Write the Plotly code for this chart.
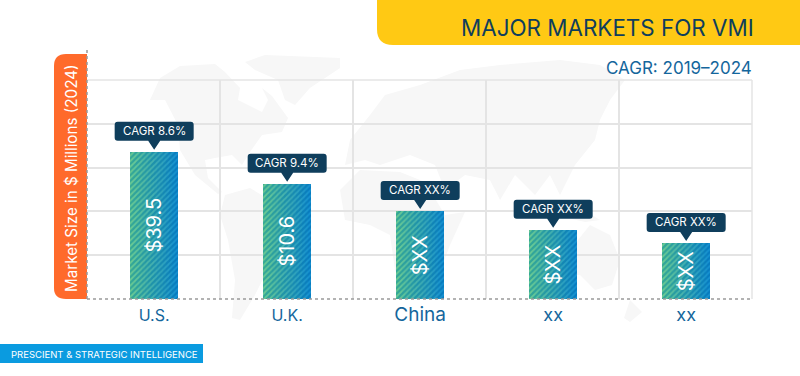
import plotly.graph_objects as go

# ---- data ----
categories = ["U.S.", "U.K.", "<span style='font-size:19px'>China</span>",
              "<span style='font-size:18px'>xx</span>", "<span style='font-size:18px'>xx</span>"]
bar_heights = [3.36, 2.63, 2.01, 1.58, 1.28]
bar_labels = ["$39.5", "$10.6", "$XX", "$XX", "$XX"]
cagr_labels = ["CAGR 8.6%", "CAGR 9.4%", "CAGR XX%", "CAGR XX%", "CAGR XX%"]

W, H = 800, 376
L, R, T, B = 87, 752, 80, 299
FONT = "Inter"
NAVY = "#0f3e5c"
BLUE = "#14669c"
GRID = "#e4e4e4"
DOT = "#9a9a9a"
MAP = "#f7f7f7"


def px(x):
    return (x - L) / (R - L)


def py(y):
    return (B - y) / (B - T)


def poly(points):
    return "M" + " L".join(f"{px(x):.4f},{py(y):.4f}" for x, y in points) + " Z"


def mix(a, b, t):
    return "#" + "".join(f"{round(a[i] + (b[i] - a[i]) * t):02x}" for i in range(3))


# decorative world map backdrop (rough outlines, canvas pixels)
land = [
    [(150,100),(160,78),(180,66),(215,64),(225,72),(240,88),(238,100),(262,112),(268,100),(262,88),(272,96),(288,118),(282,132),(262,135),(250,152),(242,165),(232,155),(215,158),(205,160),(208,178),(222,192),(218,194),(195,175),(180,150),(178,125),(165,100)],
    [(245,62),(265,55),(340,58),(340,68),(310,88),(295,105),(285,100),(278,80),(255,70)],
    [(225,195),(250,188),(270,200),(292,215),(290,240),(270,265),(255,295),(240,320),(232,318),(235,280),(228,240),(220,215)],
    [(340,190),(360,170),(400,172),(425,182),(445,215),(465,212),(450,245),(435,285),(410,292),(395,270),(390,235),(370,225),(345,220)],
    [(345,165),(350,140),(370,115),(385,95),(420,85),(460,70),(500,65),(560,60),(600,65),(625,80),(610,100),(600,120),(595,140),(575,165),(560,195),(550,175),(535,195),(515,175),(500,200),(490,180),(465,175),(445,190),(435,165),(410,155),(380,165),(365,160)],
    [(570,250),(590,225),(610,235),(620,260),(612,285),(595,290),(580,275),(565,275)],
    [(545,200),(575,205),(600,220),(585,222),(555,215)],
    [(630,300),(642,312),(630,322),(624,318)],
]

shapes = []
for pts in land:
    shapes.append(dict(type="path", path=poly(pts), xref="paper", yref="paper",
                       fillcolor=MAP, line=dict(width=0), layer="below"))

# top and right edges of the grid
shapes.append(dict(type="line", xref="paper", yref="paper", x0=0, x1=1, y0=1, y1=1,
                   line=dict(color=GRID, width=1.5), layer="below"))
shapes.append(dict(type="line", xref="paper", yref="paper", x0=1, x1=1, y0=0, y1=1,
                   line=dict(color=GRID, width=1.5), layer="below"))

# title banner (rounded lower-left corner)
shapes.append(dict(type="path", xref="paper", yref="paper", fillcolor="#ffc914", line=dict(width=0),
                   path=f"M{px(377)},{py(0)} L{px(800)},{py(0)} L{px(800)},{py(45)} L{px(393)},{py(45)} "
                        f"Q{px(377)},{py(45)} {px(377)},{py(29)} Z"))
# orange axis tab (rounded left corners)
shapes.append(dict(type="path", xref="paper", yref="paper", fillcolor="#ff6a2b", line=dict(width=0),
                   path=f"M{px(87)},{py(54)} L{px(66)},{py(54)} Q{px(54)},{py(54)} {px(54)},{py(66)} "
                        f"L{px(54)},{py(288)} Q{px(54)},{py(299)} {px(66)},{py(299)} L{px(87)},{py(299)} Z"))
# footer band
shapes.append(dict(type="rect", xref="paper", yref="paper", fillcolor="#0a9be0", line=dict(width=0),
                   x0=px(0), x1=px(203), y0=py(363), y1=py(344)))
# dotted axes
shapes.append(dict(type="line", xref="paper", yref="paper", x0=px(87), x1=px(87), y0=py(50), y1=py(299),
                   line=dict(color=DOT, width=1.5, dash="dot")))
shapes.append(dict(type="line", xref="paper", yref="paper", x0=px(87), x1=px(752), y0=py(299), y1=py(299),
                   line=dict(color=DOT, width=1.5, dash="dot")))

fig = go.Figure()

# gradient hatched bars built from thin vertical slices
positions = list(range(len(categories)))
SLICES = 16
BAR_WIDTH = 48 / 133
slice_w = BAR_WIDTH / SLICES
for k in range(SLICES):
    t = (k + 0.5) / SLICES
    bg = mix((52, 168, 150), (6, 122, 192), t)
    fig.add_trace(go.Bar(
        x=positions, y=bar_heights,
        width=slice_w, offset=-BAR_WIDTH / 2 + k * slice_w,
        marker=dict(
            color=bg,
            line=dict(width=0),
            pattern=dict(shape="/", size=4, solidity=0.45,
                         fgcolor=mix((110, 205, 145), (20, 145, 212), t),
                         bgcolor=bg, fillmode="replace"),
        ),
        showlegend=False, hoverinfo="skip",
    ))

annotations = []
BOX_W, BOX_H, TIP_GAP, NOTCH = 79, 19, 2, 9
for i, (h, lab, cagr) in enumerate(zip(bar_heights, bar_labels, cagr_labels)):
    a, b = TIP_GAP + NOTCH, TIP_GAP + NOTCH + BOX_H
    hw, r = BOX_W / 2, 3
    path = (f"M0,{TIP_GAP} L6,{a} L{hw-r},{a} Q{hw},{a} {hw},{a+r} L{hw},{b-r} Q{hw},{b} {hw-r},{b} "
            f"L{-hw+r},{b} Q{-hw},{b} {-hw},{b-r} L{-hw},{a+r} Q{-hw},{a} {-hw+r},{a} L-6,{a} Z")
    shapes.append(dict(type="path", xref="x", yref="y", xsizemode="pixel", ysizemode="pixel",
                       xanchor=i, yanchor=h, path=path, fillcolor=NAVY, line=dict(width=0)))
    annotations.append(dict(x=i, y=h, xref="x", yref="y", text=cagr, showarrow=False, yshift=(a + b) / 2,
                            font=dict(family=FONT, size=11.5, color="white")))
    annotations.append(dict(x=i, y=h / 2, xref="x", yref="y", text=lab, showarrow=False, textangle=-90,
                            font=dict(family=FONT, size=20, color="white")))

annotations += [
    dict(x=px(756), y=py(27), xref="paper", yref="paper", xanchor="right", yanchor="middle", showarrow=False,
         text="MAJOR MARKETS FOR VMI", font=dict(family=FONT, size=22.4, color=NAVY)),
    dict(x=px(754), y=py(68), xref="paper", yref="paper", xanchor="right", yanchor="middle", showarrow=False,
         text="CAGR: 2019–2024", font=dict(family=FONT, size=17, color=BLUE)),
    dict(x=px(71), y=py(178), xref="paper", yref="paper", xanchor="center", yanchor="middle", showarrow=False,
         textangle=-90, text="Market Size in $ Millions (2024)", font=dict(family=FONT, size=15.2, color="white")),
    dict(x=px(9), y=py(354), xref="paper", yref="paper", xanchor="left", yanchor="middle", showarrow=False,
         text="PRESCIENT & STRATEGIC INTELLIGENCE", font=dict(family=FONT, size=9.5, color="white")),
]

fig.update_layout(
    width=W, height=H, autosize=False,
    margin=dict(l=L, r=W - R, t=T, b=H - B, pad=0),
    paper_bgcolor="white", plot_bgcolor="rgba(0,0,0,0)",
    barmode="overlay", bargap=0, showlegend=False,
    shapes=shapes, annotations=annotations,
    xaxis=dict(range=[-0.505, 4.495], tickmode="array", tickvals=positions, ticktext=categories,
               showgrid=False, zeroline=False, showline=False, ticks="outside", ticklen=2,
               tickcolor="rgba(0,0,0,0)", tickfont=dict(family=FONT, size=16, color=BLUE),
               minor=dict(tick0=-0.505, dtick=1, showgrid=True, gridcolor=GRID, gridwidth=1.5, ticks="")),
    yaxis=dict(range=[0, 5], dtick=1, showgrid=True, gridcolor=GRID, gridwidth=1.5,
               zeroline=False, showline=False, showticklabels=False, ticks=""),
)

fig.write_html("out.html", config={"displayModeBar": False},
               post_script="document.body.style.margin='0';")
